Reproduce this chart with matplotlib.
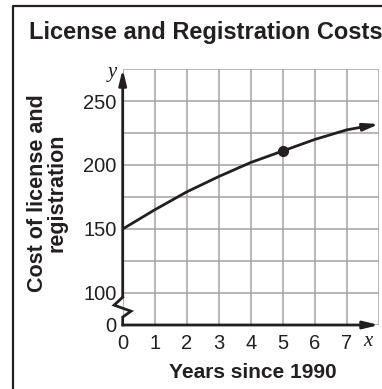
import matplotlib
matplotlib.use("Agg")
import matplotlib.pyplot as plt
from matplotlib.lines import Line2D

# years since 1990 and cost of license and registration (dollars)
years = [0, 1, 2, 3, 4, 5, 6, 7, 8]
cost = [150, 165, 179, 191, 202, 211, 220, 227.5, 232]
marked_year = 5
marked_cost = 211

x_ticks = [0, 1, 2, 3, 4, 5, 6, 7, 8]
x_labels = ["0", "1", "2", "3", "4", "5", "6", "7", ""]
y_ticks = [75, 100, 125, 150, 175, 200, 225, 250, 275]
y_labels = ["0", "100", "", "150", "", "200", "", "250", ""]

plt.rcParams["font.family"] = ["Liberation Sans", "DejaVu Sans"]
ink = "#231f20"

fig = plt.figure(figsize=(3.82, 3.89), dpi=100)
ax = fig.add_axes([122.7 / 382, 64 / 389, 256.3 / 382, 256 / 389])

ax.set_xlim(0, 8)
ax.set_ylim(75, 275)
ax.set_xticks(x_ticks)
ax.set_xticklabels(x_labels, fontsize=14.5, color=ink)
ax.set_yticks(y_ticks)
ax.set_yticklabels(y_labels, fontsize=14.5, color=ink)
ax.tick_params(length=0)
ax.tick_params(axis="x", pad=6.5)
ax.tick_params(axis="y", pad=4.5)
ax.grid(True, color="#a3a3a3", linewidth=1.1)
ax.set_axisbelow(True)
for s in ax.spines.values():
    s.set_visible(False)

# axes with arrow heads and the broken y-axis
arrow = dict(arrowstyle="-|>,head_length=0.9,head_width=0.22", color=ink,
             lw=2, shrinkA=0, shrinkB=0)
ax.annotate("", xy=(0, 275), xytext=(0, 96.7), arrowprops=arrow,
            annotation_clip=False)
ax.annotate("", xy=(8, 75), xytext=(0, 75), arrowprops=arrow,
            annotation_clip=False)
ax.plot([0, -0.27, 0.26, 0, 0], [96.7, 90.5, 85.8, 81.2, 75], color=ink,
        lw=2, clip_on=False, solid_joinstyle="miter")

# cost curve with arrow at the end
ax.plot(years[:-1], cost[:-1], color=ink, lw=2, clip_on=False,
        solid_capstyle="butt")
ax.annotate("", xy=(years[-1], cost[-1]), xytext=(years[-2], cost[-2]),
            arrowprops=arrow, annotation_clip=False)
ax.plot([marked_year], [marked_cost], "o", color=ink, markersize=7,
        clip_on=False, zorder=5)

# axis letters
ax.text(-0.33, 272, "y", fontsize=15, family="Liberation Serif",
        style="italic", ha="center", va="center", color=ink)
ax.text(7.65, 62, "x", fontsize=15, family="Liberation Serif",
        style="italic", ha="center", va="center", color=ink)

fig.text(29 / 382, 1 - 39.5 / 389, "License and Registration Costs",
         fontsize=17, fontweight="bold", ha="left", va="baseline", color=ink)
fig.text(253 / 382, 1 - 378.5 / 389, "Years since 1990", fontsize=15,
         fontweight="bold", ha="center", va="baseline", color=ink)
fig.text(47.5 / 382, 1 - 193 / 389, "Cost of license and\nregistration",
         fontsize=15.5, fontweight="bold", rotation=90, ha="center",
         va="center", multialignment="center", linespacing=0.9, color=ink)

# frame around the figure
fig.add_artist(Line2D([12.7 / 382, 12.7 / 382, 1.05], [-0.05, 1 - 6 / 389, 1 - 6 / 389],
                      transform=fig.transFigure, color=ink, lw=1.6))

fig.savefig("out.png", dpi=100)
